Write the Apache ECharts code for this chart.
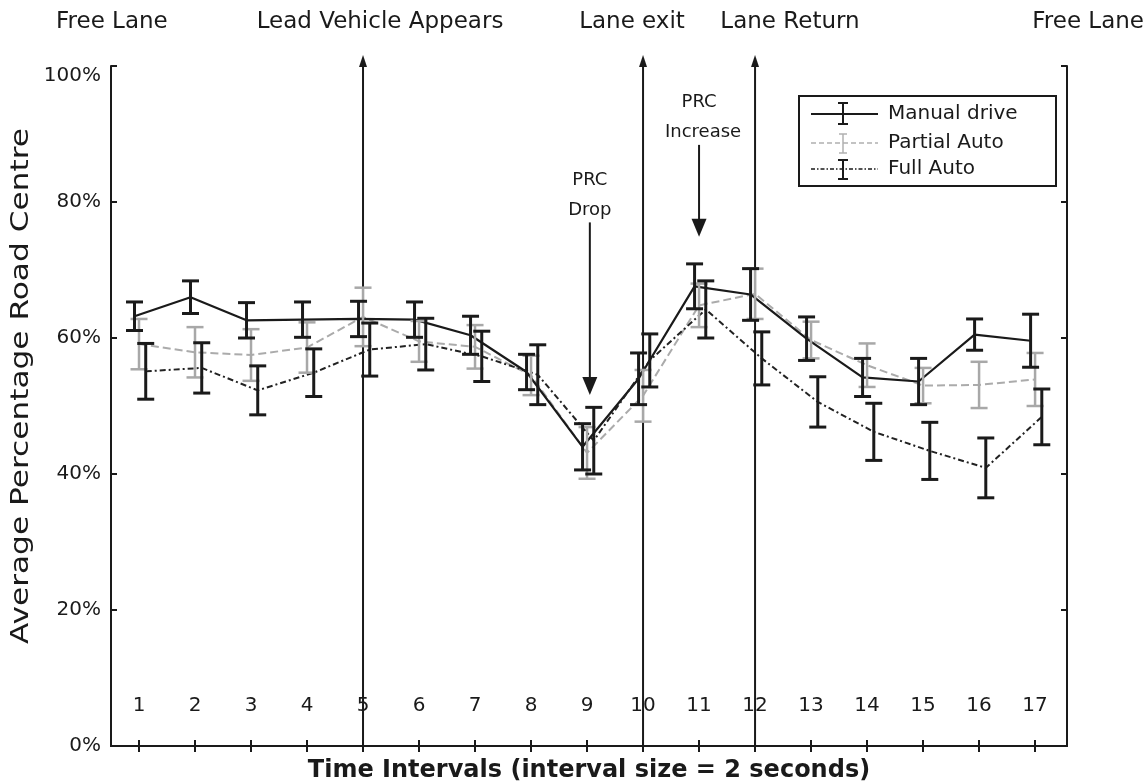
<!DOCTYPE html>
<html>
<head>
<meta charset="utf-8">
<script src="https://cdn.jsdelivr.net/npm/echarts@6/dist/echarts.min.js"></script>
<style>
  html, body { margin: 0; padding: 0; background: #fff; }
  #chart { width: 1146px; height: 782px; }
</style>
</head>
<body>
<div id="chart"></div>
<script>
// Time intervals (2 s each)
const intervals = [1, 2, 3, 4, 5, 6, 7, 8, 9, 10, 11, 12, 13, 14, 15, 16, 17];

// Average percentage road centre (%), mean and half-width of the error bar
const manualMean  = [63.2, 66.0, 62.6, 62.7, 62.8, 62.7, 60.4, 55.0, 44.0, 54.0, 67.6, 66.4, 59.9, 54.2, 53.6, 60.5, 59.6];
const manualErr   = [2.1, 2.4, 2.6, 2.6, 2.6, 2.6, 2.8, 2.6, 3.4, 3.8, 3.3, 3.8, 3.2, 2.8, 3.4, 2.3, 3.9];
const partialMean = [59.1, 57.9, 57.5, 58.6, 63.1, 59.5, 58.7, 54.5, 43.1, 51.5, 64.8, 66.5, 59.7, 56.0, 53.0, 53.1, 53.9];
const partialErr  = [3.7, 3.7, 3.8, 3.7, 4.3, 3.0, 3.2, 2.9, 3.8, 3.8, 3.2, 3.7, 2.7, 3.2, 2.6, 3.4, 3.9];
const fullMean    = [55.1, 55.6, 52.3, 54.9, 58.3, 59.1, 57.3, 54.6, 44.9, 56.7, 64.2, 57.0, 50.6, 46.2, 43.4, 40.9, 48.4];
const fullErr     = [4.1, 3.7, 3.6, 3.5, 3.9, 3.8, 3.7, 4.4, 4.9, 3.9, 4.2, 3.9, 3.7, 4.2, 4.2, 4.4, 4.1];

// Scenario events marked with vertical arrows
const eventIntervals = [5, 10, 12];
const phaseLabels = ['Free Lane', 'Lead Vehicle Appears', 'Lane exit', 'Lane Return', 'Free Lane'];

const FONT = '"DejaVu Sans", Verdana, sans-serif';
const INK = '#1a1a1a';

const chart = echarts.init(document.getElementById('chart'), null, { renderer: 'canvas' });

function errorBars(name, means, errs, shift, color, width) {
  return {
    name: name + ' error',
    type: 'custom',
    clip: false,
    z: 4,
    data: intervals.map((t, i) => [t + shift, means[i] - errs[i], means[i] + errs[i]]),
    encode: { x: 0, y: [1, 2] },
    renderItem(params, api) {
      const lo = api.coord([api.value(0), api.value(1)]);
      const hi = api.coord([api.value(0), api.value(2)]);
      const hw = 8.5;
      const st = { stroke: color, lineWidth: width };
      return {
        type: 'group',
        children: [
          { type: 'line', shape: { x1: lo[0], y1: lo[1], x2: hi[0], y2: hi[1] }, style: st },
          { type: 'line', shape: { x1: lo[0] - hw, y1: lo[1], x2: lo[0] + hw, y2: lo[1] }, style: st },
          { type: 'line', shape: { x1: hi[0] - hw, y1: hi[1], x2: hi[0] + hw, y2: hi[1] }, style: st }
        ]
      };
    }
  };
}

function meanLine(name, means, shift, lineStyle) {
  return {
    name: name,
    type: 'line',
    data: intervals.map((t, i) => [t + shift, means[i]]),
    symbol: 'none',
    z: 3,
    lineStyle: lineStyle
  };
}

// Vertical event lines with an arrowhead above the plot frame
const eventSeries = {
  type: 'custom',
  clip: false,
  z: 2,
  data: eventIntervals.map(v => [v]),
  renderItem(params, api) {
    const x = api.value(0);
    const b = api.coord([x, 0]);
    const t = api.coord([x, 100]);
    const tip = t[1] - 11;
    return {
      type: 'group',
      children: [
        { type: 'line', shape: { x1: b[0], y1: b[1], x2: b[0], y2: tip + 8 }, style: { stroke: INK, lineWidth: 2 } },
        { type: 'polygon', shape: { points: [[b[0], tip], [b[0] - 4, tip + 12], [b[0] + 4, tip + 12]] }, style: { fill: INK } }
      ]
    };
  }
};

// "PRC Drop" / "PRC Increase" call-outs (arrow from/to and first text line, in axis units)
const callouts = [
  { x: 9.05, from: 77.0, to: 51.6, lines: ['PRC', 'Drop'], textTop: 83.2 },
  { x: 11.0, from: 88.4, to: 74.9, lines: ['PRC', 'Increase'], textTop: 94.6 }
];
const calloutSeries = {
  type: 'custom',
  clip: false,
  z: 5,
  data: callouts.map((c, i) => [c.x, c.from, c.to, i]),
  renderItem(params, api) {
    const c = callouts[api.value(3)];
    const a = api.coord([c.x, c.from]);
    const b = api.coord([c.x, c.to]);
    const headLen = 18, headHalf = 7.5;
    const children = [
      { type: 'line', shape: { x1: a[0], y1: a[1], x2: b[0], y2: b[1] - headLen + 2 }, style: { stroke: INK, lineWidth: 2 } },
      { type: 'polygon', shape: { points: [[b[0], b[1]], [b[0] - headHalf, b[1] - headLen], [b[0] + headHalf, b[1] - headLen]] }, style: { fill: INK } }
    ];
    const top = api.coord([c.x, c.textTop]);
    c.lines.forEach((s, k) => {
      children.push({
        type: 'text',
        style: {
          text: s, x: a[0] + (s === 'Increase' ? 4 : 0), y: top[1] + k * 30,
          align: 'center', verticalAlign: 'middle',
          font: '18px ' + FONT, fill: INK
        }
      });
    });
    return { type: 'group', children };
  }
};

const axisLineStyle = { show: true, lineStyle: { color: INK, width: 2 } };
const tickStyle = { color: INK, width: 2 };
const xRange = { min: 0.5, max: 17.57 };

const phaseText = (i, x, align) => ({
  type: 'text', x: x, y: 22,
  style: { text: phaseLabels[i], font: '23px ' + FONT, fill: INK, align: align, verticalAlign: 'middle' }
});

const option = {
  backgroundColor: '#fff',
  animation: false,
  textStyle: { fontFamily: FONT },
  grid: { left: 111, right: 79, top: 66, bottom: 36, outerBoundsMode: 'none' },
  xAxis: [
    {
      type: 'value', ...xRange, position: 'bottom',
      axisLine: axisLineStyle,
      axisTick: { show: true, inside: true, length: 6, customValues: intervals, lineStyle: tickStyle },
      axisLabel: { show: true, inside: true, margin: 30, customValues: intervals, color: INK, fontSize: 20, fontFamily: FONT },
      splitLine: { show: false },
      name: 'Time Intervals (interval size = 2 seconds)',
      nameLocation: 'middle', nameGap: 13,
      nameTextStyle: { fontSize: 24, fontWeight: 'bold', color: INK, fontFamily: FONT }
    },
    {
      type: 'value', ...xRange, position: 'top',
      axisLine: axisLineStyle,
      axisTick: { show: true, inside: true, length: 6, customValues: intervals, lineStyle: tickStyle },
      axisLabel: { show: false },
      splitLine: { show: false }
    }
  ],
  yAxis: [
    {
      type: 'value', min: 0, max: 100, interval: 20, position: 'left',
      axisLine: axisLineStyle,
      axisTick: { show: true, inside: true, length: 6, lineStyle: tickStyle },
      axisLabel: {
        formatter: v => (v === 100 ? '{top|100%}' : v + '%'),
        rich: { top: { fontSize: 20, padding: [20, 0, 0, 0], color: INK, fontFamily: FONT } },
        color: INK, fontSize: 20, margin: 10, fontFamily: FONT
      },
      splitLine: { show: false }
    },
    {
      type: 'value', min: 0, max: 100, interval: 20, position: 'right',
      axisLine: axisLineStyle,
      axisTick: { show: true, inside: true, length: 6, lineStyle: tickStyle },
      axisLabel: { show: false },
      splitLine: { show: false }
    }
  ],
  series: [
    eventSeries,
    meanLine('Partial Auto', partialMean, 0.0, { color: '#ababab', width: 2, type: [8, 4] }),
    errorBars('Partial Auto', partialMean, partialErr, 0.0, '#a8a8a8', 2.5),
    meanLine('Manual drive', manualMean, -0.08, { color: INK, width: 2.2, type: 'solid' }),
    errorBars('Manual drive', manualMean, manualErr, -0.08, INK, 3),
    meanLine('Full Auto', fullMean, 0.12, { color: '#222', width: 2, type: [6, 3, 2, 3] }),
    errorBars('Full Auto', fullMean, fullErr, 0.12, INK, 3),
    calloutSeries
  ],
  graphic: [
    // y-axis title
    {
      type: 'text', x: 22, y: 386, rotation: Math.PI / 2, scaleX: 1.3,
      style: { text: 'Average Percentage Road Centre', font: '24px ' + FONT, fill: INK, align: 'center', verticalAlign: 'middle' }
    },
    // scenario phase labels above the plot
    phaseText(0, 56, 'left'),
    phaseText(1, 380, 'center'),
    phaseText(2, 632, 'center'),
    phaseText(3, 790, 'center'),
    phaseText(4, 1144, 'right'),
    // legend box
    {
      type: 'group', left: 798, top: 95, z: 10,
      children: [
        { type: 'rect', shape: { x: 0, y: 0, width: 257, height: 90 }, style: { fill: '#fff', stroke: INK, lineWidth: 2 } },
        { type: 'line', shape: { x1: 12, y1: 18, x2: 79, y2: 18 }, style: { stroke: INK, lineWidth: 2 } },
        { type: 'line', shape: { x1: 44, y1: 7, x2: 44, y2: 28 }, style: { stroke: INK, lineWidth: 2 } },
        { type: 'line', shape: { x1: 39, y1: 7, x2: 49, y2: 7 }, style: { stroke: INK, lineWidth: 2 } },
        { type: 'line', shape: { x1: 39, y1: 28, x2: 49, y2: 28 }, style: { stroke: INK, lineWidth: 2 } },
        { type: 'text', x: 89, y: 18, style: { text: 'Manual drive', font: '20px ' + FONT, fill: INK, verticalAlign: 'middle' } },

        { type: 'line', shape: { x1: 12, y1: 47, x2: 79, y2: 47 }, style: { stroke: '#b0b0b0', lineWidth: 1.5, lineDash: [5, 3] } },
        { type: 'line', shape: { x1: 44, y1: 38, x2: 44, y2: 57 }, style: { stroke: '#b0b0b0', lineWidth: 1.5 } },
        { type: 'line', shape: { x1: 40, y1: 38, x2: 48, y2: 38 }, style: { stroke: '#b0b0b0', lineWidth: 1.5 } },
        { type: 'line', shape: { x1: 40, y1: 57, x2: 48, y2: 57 }, style: { stroke: '#b0b0b0', lineWidth: 1.5 } },
        { type: 'text', x: 89, y: 47, style: { text: 'Partial Auto', font: '20px ' + FONT, fill: INK, verticalAlign: 'middle' } },

        { type: 'line', shape: { x1: 12, y1: 73, x2: 79, y2: 73 }, style: { stroke: INK, lineWidth: 1.5, lineDash: [4, 2, 1.5, 2] } },
        { type: 'line', shape: { x1: 44, y1: 64, x2: 44, y2: 83 }, style: { stroke: INK, lineWidth: 2 } },
        { type: 'line', shape: { x1: 39, y1: 64, x2: 49, y2: 64 }, style: { stroke: INK, lineWidth: 2 } },
        { type: 'line', shape: { x1: 39, y1: 83, x2: 49, y2: 83 }, style: { stroke: INK, lineWidth: 2 } },
        { type: 'text', x: 89, y: 73, style: { text: 'Full Auto', font: '20px ' + FONT, fill: INK, verticalAlign: 'middle' } }
      ]
    }
  ]
};

chart.setOption(option);
</script>
</body>
</html>
